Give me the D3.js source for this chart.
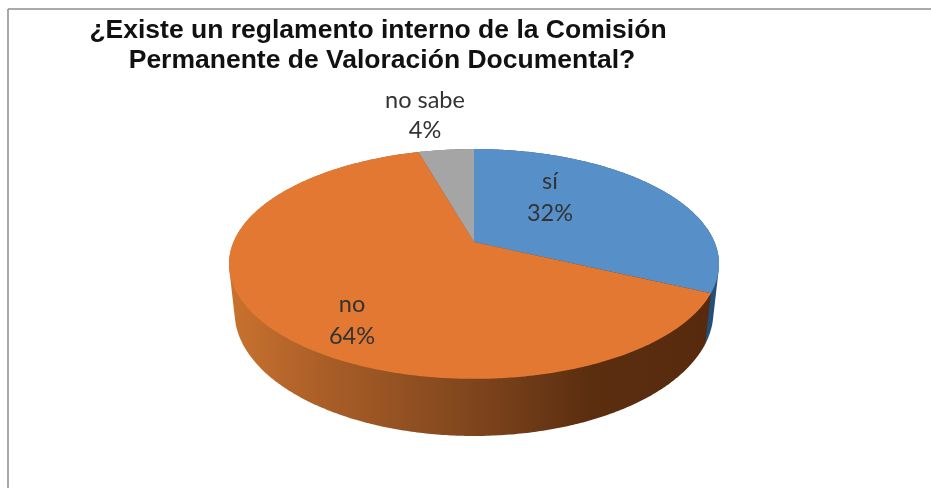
<!DOCTYPE html>
<html>
<head>
<meta charset="utf-8">
<script src="https://cdnjs.cloudflare.com/ajax/libs/d3/7.8.5/d3.min.js"></script>
<style>
    html, body { margin: 0; padding: 0; background: #fff; }
    svg { display: block; filter: blur(0.45px); }
    .title { font-family: "Liberation Sans", Arial, sans-serif; font-weight: bold; font-size: 26.5px; fill: #111; text-anchor: middle; }
    .label { font-family: Lato, "Open Sans", sans-serif; font-size: 23.5px; fill: #333; text-anchor: middle; }
</style>
</head>
<body>
<div id="chart"></div>
<script>
// Data (the labels show these rounded)
var categories = ["sí", "no", "no sabe"];
var percentages = [32, 63.6, 4.4];
var sliceColors = ["#5790c9", "#e27832", "#a5a5a5"];
var titleLines = ["¿Existe un reglamento interno de la Comisión", "Permanente de Valoración Documental?"];

var width = 931, height = 488;

// where each data label sits: [x, baseline of name, baseline of value]
var labelPos = [[550, 189, 221], [352, 312, 344], [425, 108, 138]];

var svg = d3.select("#chart").append("svg")
    .attr("width", width)
    .attr("height", height);

// Frame of the original screenshot
svg.append("line").attr("x1", 8).attr("x2", width).attr("y1", 9).attr("y2", 9)
    .attr("stroke", "#8c8c8c").attr("stroke-width", 1.5);
svg.append("line").attr("x1", 8).attr("x2", 8).attr("y1", 9).attr("y2", height)
    .attr("stroke", "#8c8c8c").attr("stroke-width", 1.5);

// Title
svg.selectAll(".title")
    .data(titleLines)
    .enter().append("text")
    .attr("class", "title")
    .attr("x", (d, i) => i == 0 ? 378 : 382)
    .attr("y", (d, i) => i == 0 ? 38 : 68)
    .text(d => d);

// Perspective projection of a flat circle (u right, v away from viewer)
var cx = 474, tilt = 0.191, foreshorten = -64.5;
var topDisc = {r: 240.5, cy: 242};
var baseDisc = {r: 235, cy: 288.2};

function project(disc, angle) {
    var u = Math.sin(angle), v = Math.cos(angle);
    var w = 1 + tilt * v;
    return [cx + disc.r * u / w, (disc.cy + foreshorten * v) / w];
}

function arcPoints(disc, a0, a1) {
    var n = Math.max(2, Math.ceil((a1 - a0) / 0.01));
    return d3.range(n + 1).map(i => project(disc, a0 + (a1 - a0) * i / n));
}

var pie = d3.pie().sort(null);
var slices = pie(percentages);
var line = d3.line();

// Side wall shading, light on the left and dark to the right
var xShade = d3.scaleLinear().domain([230, 720]).range([0, 100]);
var shadeStops = [[230, "#c9722f"], [330, "#a85d27"], [480, "#7d441c"], [590, "#5b2e10"], [720, "#57290e"]];

var defs = svg.append("defs");
var grad = defs.append("linearGradient")
    .attr("id", "wallOrange")
    .attr("gradientUnits", "userSpaceOnUse")
    .attr("x1", 230).attr("x2", 720).attr("y1", 0).attr("y2", 0);
grad.selectAll("stop")
    .data(shadeStops)
    .enter().append("stop")
    .attr("offset", d => xShade(d[0]) + "%")
    .attr("stop-color", d => d[1]);

var wallFills = ["#234f78", "url(#wallOrange)", "#6e6e6e"];

// Walls, back to front: grey and blue first so the orange wall overlaps them.
// The hull gives the straight tangent edge between the two rims.
var wallOrder = [2, 0, 1];
svg.append("g").selectAll("path")
    .data(wallOrder)
    .enter().append("path")
    .attr("d", i => {
        var s = slices[i];
        var upper = arcPoints(topDisc, s.startAngle, s.endAngle);
        var lower = arcPoints(baseDisc, s.startAngle, s.endAngle);
        return line(d3.polygonHull(upper.concat(lower))) + "Z";
    })
    .attr("fill", i => wallFills[i]);

// Top faces
svg.append("g").selectAll("path")
    .data(slices)
    .enter().append("path")
    .attr("d", s => {
        var rim = arcPoints(topDisc, s.startAngle, s.endAngle);
        return line([[cx, topDisc.cy]].concat(rim)) + "Z";
    })
    .attr("fill", (s, i) => sliceColors[i]);

// Data labels
categories.forEach(function(c, i) {
    svg.append("text").attr("class", "label")
        .attr("x", labelPos[i][0]).attr("y", labelPos[i][1]).text(c);
    svg.append("text").attr("class", "label")
        .attr("x", labelPos[i][0]).attr("y", labelPos[i][2]).text(Math.round(percentages[i]) + "%");
});
</script>
</body>
</html>
